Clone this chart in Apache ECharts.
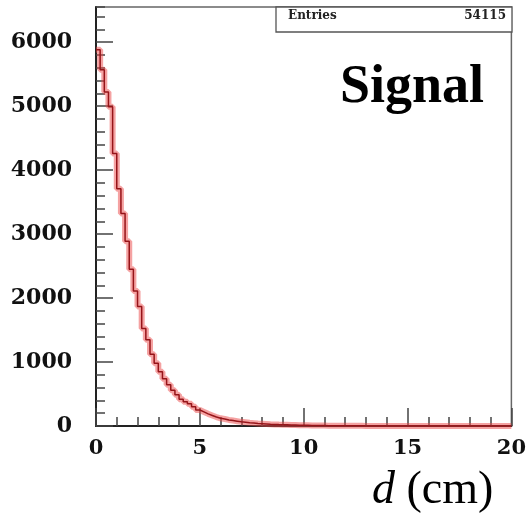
<!DOCTYPE html>
<html>
<head>
<meta charset="utf-8">
<script src="https://cdn.jsdelivr.net/npm/echarts@6/dist/echarts.min.js"></script>
<style>
  html, body { margin: 0; padding: 0; background: #fff; }
  #chart { width: 529px; height: 513px; }
</style>
</head>
<body>
<div id="chart"></div>
<script>
// Histogram of the decay distance d, 100 bins of 0.2 cm from 0 to 20 cm
const binWidth = 0.2;
const xRange = [0, 20];
const yTickLabels = ['0', '1000', '2000', '3000', '4000', '5000', '6000'];
const counts = [
  5880, 5570, 5220, 4990, 4260, 3710, 3320, 2890, 2450, 2110,
  1870, 1525, 1350, 1120, 980, 850, 740, 645, 560, 487,
  420, 380, 346, 300, 250, 220, 190, 165, 140, 120,
  110, 95, 85, 75, 65, 58, 50, 45, 40, 36,
  32, 28, 25, 22, 20, 18, 16, 14, 12, 11,
  10, 9, 8, 7, 6, 5, 5, 4, 4, 3,
  3, 2, 2, 2, 1, 1, 1, 1, 1, 0,
  0, 0, 0, 0, 0, 0, 0, 0, 0, 0,
  0, 0, 0, 0, 0, 0, 0, 0, 0, 0,
  0, 0, 0, 0, 0, 0, 0, 0, 0, 0
];
const entries = 54115;
const titleText = 'Signal';

// step outline: each bin from its lower edge, closed at the upper edge of the last bin
const stepData = counts.map((c, i) => [+(i * binWidth).toFixed(2), c]);
stepData.push([xRange[1], counts[counts.length - 1]]);

const tickColor = '#444';
const labelFont = { fontFamily: 'DejaVu Serif', fontWeight: 'bold', color: '#111' };

const chart = echarts.init(document.getElementById('chart'), null, { renderer: 'canvas' });
chart.setOption({
  backgroundColor: '#fff',
  animation: false,
  grid: { left: 96, right: 17, top: 7, bottom: 87, show: true, borderColor: '#666', borderWidth: 1.5 },
  xAxis: {
    type: 'value', min: xRange[0], max: xRange[1], interval: 5,
    axisLine: { lineStyle: { color: '#222', width: 2 } },
    axisTick: { inside: true, length: 18, lineStyle: { color: tickColor, width: 1.5 } },
    minorTick: { show: true, splitNumber: 5, length: 9, lineStyle: { color: tickColor, width: 1.5 } },
    splitLine: { show: false },
    axisLabel: Object.assign({ fontSize: 21, margin: 12 }, labelFont)
  },
  yAxis: [
    {
      type: 'value', min: 0, max: 6550, interval: 1000, position: 'left',
      axisLine: { show: true, lineStyle: { color: '#222', width: 2 } },
      axisTick: { show: true, inside: true, length: 17, lineStyle: { color: tickColor, width: 1.5 } },
      splitLine: { show: false },
      axisLabel: Object.assign({
        fontSize: 22, margin: 24, showMaxLabel: false,
        formatter: v => yTickLabels.includes(String(v)) ? String(v) : ''
      }, labelFont)
    },
    {
      type: 'value', min: 0, max: 6550, interval: 200, position: 'left',
      axisLine: { show: false },
      axisTick: { show: true, inside: true, length: 9, lineStyle: { color: tickColor, width: 1.5 } },
      splitLine: { show: false },
      axisLabel: { show: false }
    }
  ],
  series: [
    {
      name: 'halo', type: 'line', step: 'end', data: stepData, showSymbol: false, symbol: 'none',
      lineStyle: { color: 'rgba(236,70,70,0.5)', width: 6 }, silent: true, z: 2
    },
    {
      name: 'd', type: 'line', step: 'end', data: stepData, showSymbol: false, symbol: 'none',
      lineStyle: { color: '#961419', width: 1.5 }, z: 3
    }
  ],
  graphic: [
    {
      type: 'rect', shape: { x: 276, y: 7, width: 236, height: 25 },
      style: { fill: '#fff', stroke: '#555', lineWidth: 1.3 }, z: 10
    },
    {
      type: 'text', x: 288, y: 16, z: 11,
      style: { text: 'Entries', font: 'bold 12px "DejaVu Serif"', fill: '#222', verticalAlign: 'middle' }
    },
    {
      type: 'text', x: 506, y: 16, z: 11,
      style: { text: String(entries), font: 'bold 12px "DejaVu Serif"', fill: '#222', align: 'right', verticalAlign: 'middle' }
    },
    {
      type: 'text', x: 340, y: 88, z: 11,
      style: { text: titleText, font: 'bold 54px "Liberation Serif"', fill: '#000', verticalAlign: 'middle' }
    },
    {
      type: 'text', x: 372, y: 491, z: 11,
      style: {
        text: '{i|d} (cm)', font: '46px "Liberation Serif"', fill: '#000', verticalAlign: 'middle',
        rich: { i: { font: 'italic 46px "Liberation Serif"', fill: '#000' } }
      }
    }
  ]
});
</script>
</body>
</html>
